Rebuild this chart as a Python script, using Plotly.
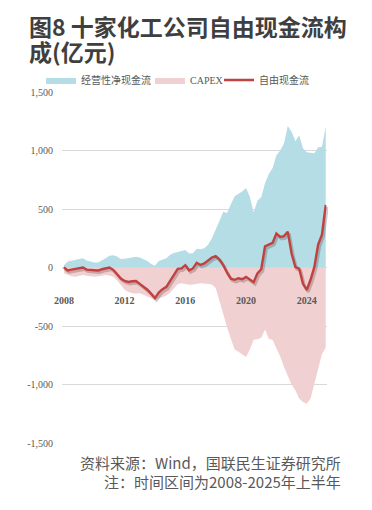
import plotly.graph_objects as go

# ---------------- data ----------------
years = list(range(2008, 2026))
quarters = [f"{y}Q{q}" for y in years for q in range(1, 5)][:70]

ocf = [20, 52, 58, 64, 72, 79, 60, 48, 42, 42,
       58, 80, 100, 105, 95, 72, 75, 79, 85, 92,
       85, 72, 55, 30, 15, 55, 70, 78, 110, 125,
       132, 140, 150, 120, 121, 160, 155, 165, 195, 250,
       320, 400, 477, 465, 540, 610, 630, 650, 680, 605,
       470, 570, 600, 720, 800, 850, 960, 1000, 1060, 1209,
       1160, 1080, 1130, 1020, 985, 980, 976, 1027, 1033, 1203]

capex = [-50, -65, -75, -78, -72, -64, -70, -75, -78, -75,
         -68, -64, -68, -78, -110, -150, -190, -210, -221, -222,
         -221, -232, -248, -262, -277, -265, -250, -240, -215, -175,
         -140, -135, -140, -148, -145, -138, -135, -136, -140, -145,
         -175, -290, -400, -510, -610, -700, -720, -740, -765, -700,
         -618, -614, -600, -530, -608, -620, -690, -760, -850, -920,
         -1000, -1050, -1120, -1150, -1165, -1120, -990, -870, -740, -685]

fcf = [0, -25, -18, -12, -8, 0, -18, -22, -25, -26,
       -15, -5, 0, -20, -60, -95, -115, -124, -118, -115,
       -140, -164, -190, -225, -262, -215, -185, -165, -115, -60,
       -12, -8, 20, -25, -8, 40, 22, 35, 60, 85,
       98, 68, 20, -45, -95, -105, -92, -100, -80, -100,
       -125, -50, -15, 180, 192, 210, 290, 262, 268, 306,
       120, 3, -10, -140, -192, -105, 5, 195, 280, 534]

series_names = ["经营性净现金流", "CAPEX", "自由现金流"]
x_tick_cats = ["2008Q1", "2012Q1", "2016Q1", "2020Q1", "2024Q1"]
x_tick_labels = ["2008", "2012", "2016", "2020", "2024"]
y_tick_vals = [1500, 1000, 500, 0, -500, -1000, -1500]
y_tick_labels = ["1,500", "1,000", "500", "0", "-500", "-1,000", "-1,500"]

title_lines = ["图8 十家化工公司自由现金流构", "成(亿元)"]
notes = ["资料来源：Wind，国联民生证券研究所", "注：时间区间为2008-2025年上半年"]

# ---------------- styling / layout ----------------
W, H = 372, 510
ML, MR, MT, MB = 62, 44, 92, 65
PW, PH = W - ML - MR, H - MT - MB
DX, DY = 1.5, 2.0            # shadow offset in px
dx, dy = DX / PW, DY / PH

BLUE = "#b5dde6"
PINK = "#f0d0d0"
RED = "#c0413f"
GRAY = "#595959"
XR = [-0.5, 69.2]
YR = [-1500, 1500]

def px_x(p):
    return (p - ML) / PW

def px_y(p):
    return (H - MB - p) / PH

fig = go.Figure()

fig.add_trace(go.Scatter(
    x=quarters, y=ocf, name=series_names[0], mode="lines",
    line=dict(width=0, color=BLUE), fill="tozeroy", fillcolor=BLUE,
    xaxis="x", yaxis="y", legend="legend", hoverinfo="skip"))
fig.add_trace(go.Scatter(
    x=quarters, y=capex, name=series_names[1], mode="lines",
    line=dict(width=0, color=PINK), fill="tozeroy", fillcolor=PINK,
    xaxis="x", yaxis="y", legend="legend2", hoverinfo="skip"))
# shadow of the free cash flow line
fig.add_trace(go.Scatter(
    x=quarters, y=fcf, mode="lines", showlegend=False,
    line=dict(width=3.0, color="rgba(70,40,40,0.25)"),
    xaxis="x2", yaxis="y2", hoverinfo="skip"))
fig.add_trace(go.Scatter(
    x=quarters, y=fcf, name=series_names[2], mode="lines",
    line=dict(width=2.4, color=RED),
    xaxis="x3", yaxis="y3", legend="legend3"))

tick_font = dict(family="Liberation Serif, serif", size=10, color=GRAY)

fig.update_layout(
    width=W, height=H,
    margin=dict(l=ML, r=MR, t=MT, b=MB, autoexpand=False),
    paper_bgcolor="white", plot_bgcolor="rgba(0,0,0,0)",
    xaxis=dict(type="category", range=XR, domain=[0, 1 - dx],
               anchor="free", position=0.432, automargin=False,
               tickmode="array", tickvals=x_tick_cats, ticktext=x_tick_labels,
               showgrid=False, zeroline=False, showline=False, ticks="",
               tickfont=dict(family="Liberation Serif, serif", size=10,
                             color=GRAY, weight="bold")),
    yaxis=dict(range=YR, domain=[dy, 1], anchor="x", automargin=False,
               tickmode="array", tickvals=y_tick_vals, ticktext=y_tick_labels,
               showgrid=True, gridcolor="#d9d9d9", gridwidth=1,
               zeroline=False, showline=False, ticks="",
               ticklabelstandoff=8, tickfont=tick_font),
    xaxis2=dict(type="category", range=XR, domain=[dx, 1], anchor="y2",
                visible=False, showgrid=False),
    yaxis2=dict(range=YR, domain=[0, 1 - dy], anchor="x2",
                visible=False, showgrid=False),
    xaxis3=dict(type="category", range=XR, domain=[0, 1 - dx], anchor="y3",
                visible=False, showgrid=False),
    yaxis3=dict(range=YR, domain=[dy, 1], anchor="x3",
                visible=False, showgrid=False),
    showlegend=True,
    hovermode=False,
)

legend_font = dict(family="Liberation Serif, Noto Sans CJK SC, serif",
                   size=10, color=GRAY)
legend_common = dict(orientation="h", xref="container", yref="container",
                     xanchor="left", yanchor="middle", font=legend_font,
                     bgcolor="rgba(0,0,0,0)", borderwidth=0, itemwidth=30,
                     tracegroupgap=0)
fig.update_layout(
    legend=dict(x=41 / W, y=1 - 80 / H, **legend_common),
    legend2=dict(x=150 / W, y=1 - 80 / H, **legend_common),
    legend3=dict(x=219 / W, y=1 - 80 / H, **legend_common),
)

annotations = [
    dict(text=title_lines[0], x=px_x(27), y=px_y(26)),
    dict(text=title_lines[1], x=px_x(27), y=px_y(51)),
]
for a in annotations:
    a.update(xref="paper", yref="paper", xanchor="left", yanchor="middle",
             showarrow=False,
             font=dict(family="Noto Sans CJK SC", size=23, color="#3f3f3f",
                       weight="bold"))
for txt, yc in zip(notes, [462, 481]):
    annotations.append(dict(
        text=txt, x=px_x(343), y=px_y(yc), xref="paper", yref="paper",
        xanchor="right", yanchor="middle", showarrow=False,
        font=dict(family="Noto Sans CJK SC", size=15, color=GRAY)))
fig.update_layout(annotations=annotations)

fig.write_html("out.html",
               config={"displayModeBar": False, "staticPlot": True},
               post_script="document.body.style.margin='0';")
